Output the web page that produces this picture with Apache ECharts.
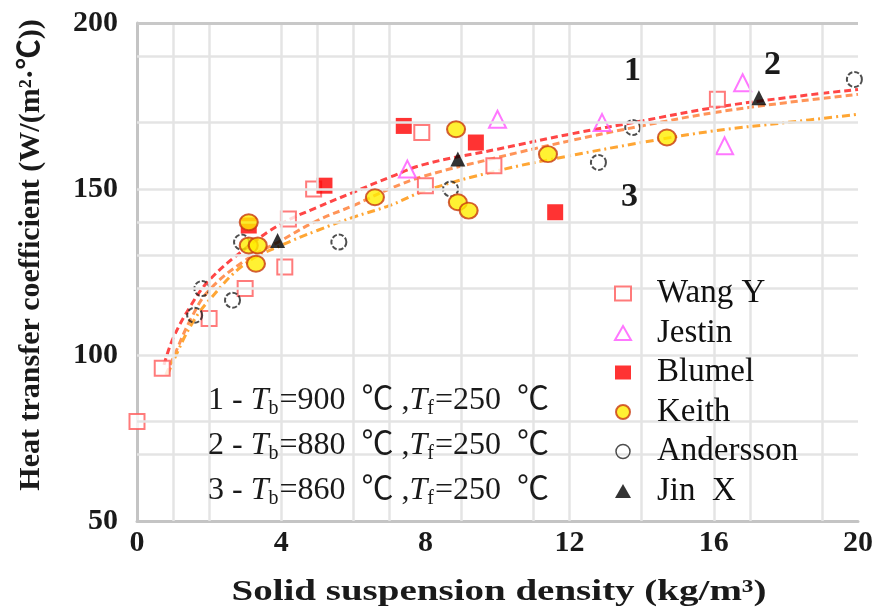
<!DOCTYPE html>
<html>
<head>
<meta charset="utf-8">
<script src="https://cdn.jsdelivr.net/npm/echarts@6/dist/echarts.min.js"></script>
<style>
  html, body { margin: 0; padding: 0; background: #fff; }
  #chart { width: 877px; height: 613px; }
</style>
</head>
<body>
<div id="chart"></div>
<script>
// Measured heat transfer coefficients, W/(m2·C), against solid suspension density, kg/m3
const wangX = [0, 0.7, 2.0, 3.0, 4.1, 4.2, 4.9, 7.9, 8.0, 9.9, 16.1];
const wangY = [80, 96, 111, 120, 126.5, 141, 150, 167, 151, 157, 177];

const jestinX = [7.5, 10.0, 12.9, 16.3, 16.8];
const jestinY = [156, 171, 170, 163, 182];

const blumelX = [3.1, 5.2, 7.4, 9.4, 11.6];
const blumelY = [139, 151, 169, 164, 143];

const keithX = [3.1, 3.1, 3.35, 3.3, 6.6, 8.85, 8.9, 9.2, 11.4, 14.7];
const keithY = [140, 133, 133, 127.5, 147.5, 168, 146, 143.5, 160.5, 165.5];

const anderX = [1.6, 1.8, 2.65, 2.9, 5.6, 8.7, 12.8, 13.75, 19.9];
const anderY = [112, 120, 116.5, 134, 134, 150, 158, 168.5, 183];

const jinX = [3.9, 8.9, 17.25];
const jinY = [134.5, 159, 177.5];

// Fitted curves 1-3 (Tb = 900 / 880 / 860 C, Tf = 250 C)
const curve1X = [0.75, 1, 1.5, 2, 3, 4, 5, 6, 7, 8, 10, 12, 14, 16, 18, 20];
const curve1Y = [97, 105, 115, 122.5, 132, 139.5, 144.5, 149, 153.5, 157.5, 162, 166.5, 170.5, 174.5, 177.5, 180];
const curve2X = [0.8, 1, 1.5, 2, 3, 4, 5, 6, 7, 8, 10, 12, 14, 16, 18, 20];
const curve2Y = [94, 99, 111, 119.5, 128.5, 134.5, 140.5, 145, 150, 154, 159.5, 164.5, 169, 173, 176, 178.5];
const curve3X = [0.85, 1, 1.5, 2, 3, 4, 5, 6, 7, 8, 10, 12, 14, 16, 18, 20];
const curve3Y = [94, 98, 109, 116.5, 127.5, 133, 137.5, 141.5, 145, 149.5, 155.5, 160, 164, 167.5, 170, 172.5];

// Axis ticks and background grid lines
const xTicks = [0, 4, 8, 12, 16, 20];
const yTicks = [50, 100, 150, 200];
const gridXs = [1, 2, 4, 6, 7, 9, 11, 12, 14, 16, 17, 19];
const gridXPartial = [5];
const gridYs = [70, 80, 100, 120, 130, 140, 150, 170, 190];

const xTitle = 'Solid suspension density (kg/m³)';
const yTitle = 'Heat transfer coefficient (W/(m²·℃))';

const pairs = (xs, ys) => xs.map((x, i) => [x, ys[i]]);

const serif = "'Liberation Serif', 'Times New Roman', 'Noto Sans CJK SC', serif";

const chart = echarts.init(document.getElementById('chart'), null, { renderer: 'canvas' });

const gridLineData = []
  .concat(gridXs.map(v => ({ xAxis: v })))
  .concat(gridYs.map(v => ({ yAxis: v })))
  .concat(gridXPartial.map(v => [{ coord: [v, 150] }, { coord: [v, 200] }]));

const curveSeries = (name, xs, ys, color, dash) => ({
  name: name,
  type: 'line',
  smooth: 0.4,
  showSymbol: false,
  silent: true,
  z: 3,
  lineStyle: { color: color, width: 3, type: dash },
  data: pairs(xs, ys)
});

const ann = (n, tb) => (
  '{n|' + n + ' - }{it|T}{sub|b}{n|=' + tb + '  ℃ ,}{it|T}{sub|f}{n|=250  ℃}'
);

const option = {
  animation: false,
  backgroundColor: '#fff',
  grid: { left: 137, right: 19, top: 23, bottom: 92, containLabel: false },
  xAxis: {
    type: 'value', min: 0, max: 20, interval: 4,
    axisLine: { lineStyle: { color: '#c4c4c4', width: 3 } },
    axisTick: { show: false },
    splitLine: { show: false },
    axisLabel: {
      fontFamily: serif, fontSize: 30, fontWeight: 'bold', color: '#1a1a1a', margin: 7,
      formatter: v => (xTicks.indexOf(v) >= 0 ? String(v) : '')
    }
  },
  yAxis: {
    type: 'value', min: 50, max: 200, interval: 50,
    axisLine: { show: true, lineStyle: { color: '#c4c4c4', width: 3 } },
    axisTick: { show: false },
    splitLine: { show: false },
    axisLabel: {
      fontFamily: serif, fontSize: 30, fontWeight: 'bold', color: '#1a1a1a', margin: 19,
      formatter: v => (yTicks.indexOf(v) >= 0 ? String(v) : '')
    }
  },
  legend: {
    orient: 'vertical',
    left: 609, top: 272,
    itemWidth: 16, itemHeight: 14,
    itemGap: 6.5,
    z: 10,
    textStyle: { fontFamily: serif, fontSize: 33, color: '#111', lineHeight: 33, padding: [0, 0, 0, 21] },
    data: [
      { name: 'Wang Y' },
      { name: 'Jestin' },
      { name: 'Blumel' },
      { name: 'Keith' },
      { name: 'Andersson', itemStyle: { borderType: 'solid', borderWidth: 1.5 } },
      { name: 'Jin  X' }
    ]
  },
  graphic: [
    // axis titles
    {
      type: 'text', z: 6, x: 499, y: 592, scaleX: 1.3,
      style: { text: xTitle, font: "bold 30px " + serif, fill: '#1a1a1a', align: 'center', verticalAlign: 'middle' }
    },
    {
      type: 'text', z: 6, x: 31, y: 255, rotation: Math.PI / 2,
      style: { text: yTitle, font: "bold 30px " + serif, fill: '#1a1a1a', align: 'center', verticalAlign: 'middle' }
    },
    // legend panel
    { type: 'rect', z: 5, shape: { x: 597, y: 272, width: 262, height: 247 }, style: { fill: '#fff' } },
    // condition panel
    { type: 'rect', z: 5, shape: { x: 207, y: 378, width: 361, height: 141 }, style: { fill: '#fff' } },
    {
      type: 'group', z: 6, left: 208, top: 385,
      children: [0, 1, 2].map(i => ({
        type: 'text', z: 6, x: 0, y: i * 45,
        style: {
          text: ann(['1', '2', '3'][i], ['900', '880', '860'][i]),
          fill: '#1a1a1a',
          rich: {
            n: { fontSize: 32, fontFamily: serif, lineHeight: 36 },
            it: { fontSize: 32, fontFamily: serif, fontStyle: 'italic', lineHeight: 36 },
            sub: { fontSize: 20, fontFamily: serif, verticalAlign: 'bottom', lineHeight: 28, padding: [0, 1, 0, 0] }
          }
        }
      }))
    },
    // curve numbers
    { type: 'text', z: 6, left: 624, top: 54, style: { text: '1', font: "bold 34px 'Liberation Serif', serif", fill: '#1a1a1a' } },
    { type: 'text', z: 6, left: 764, top: 48, style: { text: '2', font: "bold 34px 'Liberation Serif', serif", fill: '#1a1a1a' } },
    { type: 'text', z: 6, left: 621, top: 180, style: { text: '3', font: "bold 34px 'Liberation Serif', serif", fill: '#1a1a1a' } }
  ],
  series: [
    {
      type: 'scatter', data: [], silent: true, z: 1,
      markLine: {
        silent: true, symbol: 'none', label: { show: false },
        lineStyle: { color: '#e4e4e4', width: 2.5, type: 'solid' },
        data: gridLineData
      }
    },
    {
      type: 'scatter', data: [], silent: true, z: 1,
      markLine: {
        silent: true, symbol: 'none', label: { show: false },
        lineStyle: { color: '#c8c8c8', width: 3, type: 'solid' },
        data: [{ yAxis: 200 }]
      }
    },
    curveSeries('curve1', curve1X, curve1Y, '#ff4646', [7, 4]),
    curveSeries('curve2', curve2X, curve2Y, '#ff9458', [7, 4]),
    curveSeries('curve3', curve3X, curve3Y, '#ffa634', [8, 4, 2, 4]),
    {
      name: 'Wang Y', type: 'scatter', z: 4, symbol: 'rect', symbolSize: 15,
      itemStyle: { color: '#fff', borderColor: '#ff5a5a', borderWidth: 2 },
      data: pairs(wangX, wangY)
    },
    {
      name: 'Jestin', type: 'scatter', z: 4, symbol: 'triangle', symbolSize: 17,
      itemStyle: { color: 'rgba(255,255,255,0)', borderColor: '#ff55ff', borderWidth: 2 },
      data: pairs(jestinX, jestinY)
    },
    {
      name: 'Blumel', type: 'scatter', z: 4, symbol: 'rect', symbolSize: 16,
      itemStyle: { color: '#ff0000' },
      data: pairs(blumelX, blumelY)
    },
    {
      name: 'Keith', type: 'scatter', z: 5, symbol: 'circle', symbolSize: [18, 16],
      itemStyle: { color: '#ffee00', borderColor: '#c83a10', borderWidth: 2 },
      data: pairs(keithX, keithY)
    },
    {
      name: 'Andersson', type: 'scatter', z: 4, symbol: 'circle', symbolSize: 15,
      itemStyle: { color: 'rgba(255,255,255,0)', borderColor: '#222', borderWidth: 2, borderType: [5, 2] },
      data: pairs(anderX, anderY)
    },
    {
      name: 'Jin  X', type: 'scatter', z: 6, symbol: 'triangle', symbolSize: 15,
      itemStyle: { color: '#000' },
      data: pairs(jinX, jinY)
    }
  ]
};

chart.setOption(option);
</script>
</body>
</html>
